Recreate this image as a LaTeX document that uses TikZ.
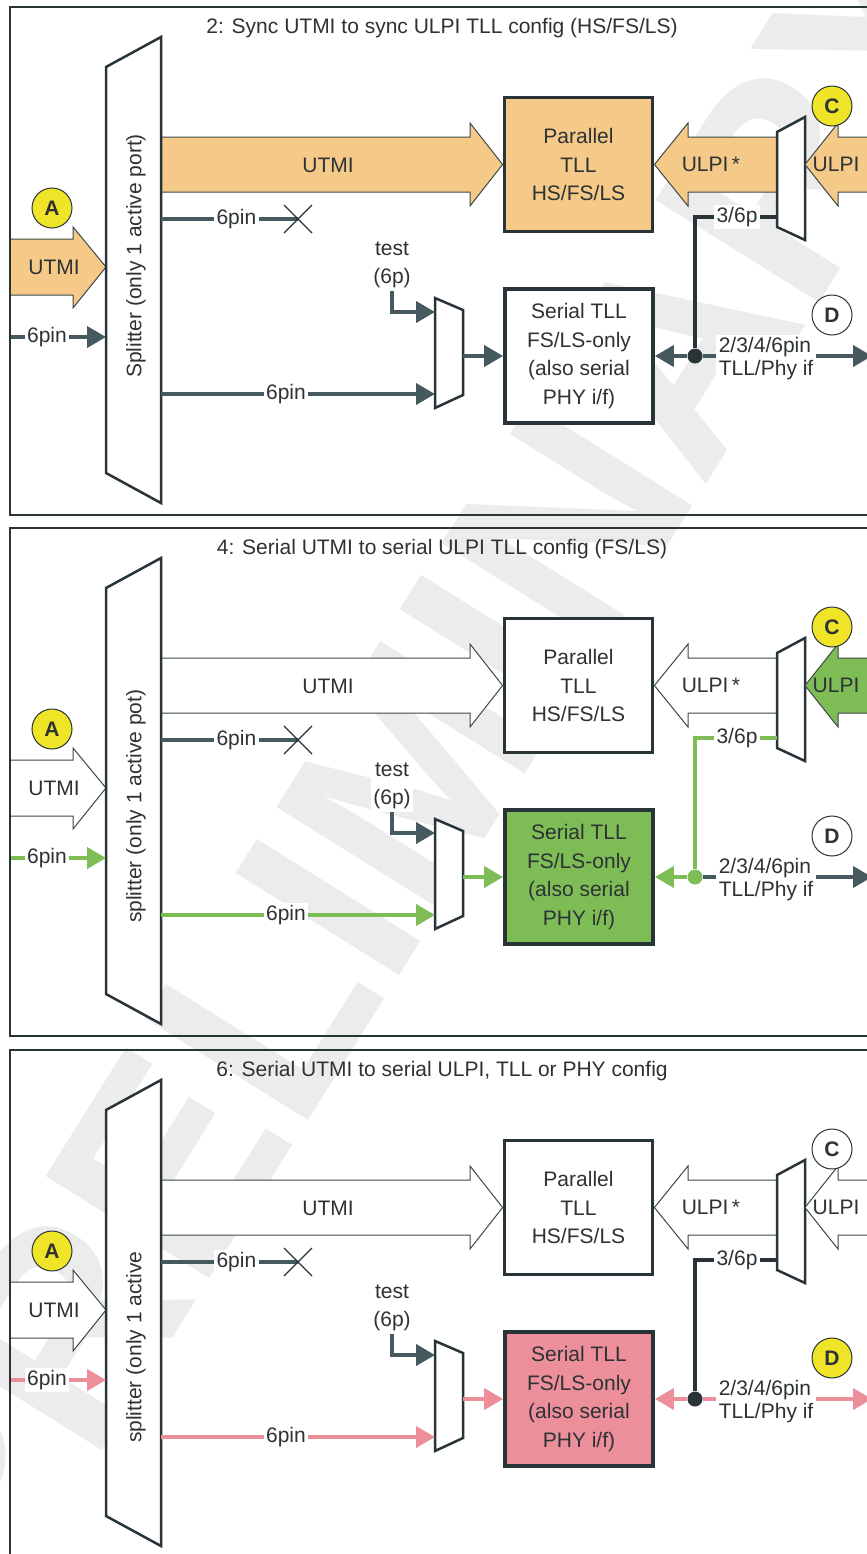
\documentclass[tikz,border=0pt]{standalone}
\usepackage{fontspec}
\setmainfont{Liberation Sans}
\usetikzlibrary{arrows.meta}
\definecolor{dk}{RGB}{40,52,56}
\definecolor{ln}{RGB}{69,89,94}
\definecolor{txt}{RGB}{45,50,52}
\definecolor{org}{RGB}{245,201,136}
\definecolor{grn}{RGB}{126,189,86}
\definecolor{pnk}{RGB}{236,143,155}
\definecolor{yel}{RGB}{240,228,40}
\definecolor{wm}{RGB}{236,236,236}
\newcommand\lblfont{\fontsize{10.5}{14.2}\selectfont}
\tikzset{
 frame/.style={draw=dk, line width=1.4pt},
 tllbox/.style={draw=dk, line width=1.9pt, minimum width=74pt, minimum height=67pt, align=center, text=txt, font=\lblfont, inner sep=0pt},
 fatarrow/.style={draw=dk!90, line width=0.5pt},
 muxshape/.style={draw=dk, line width=1.25pt, fill=white},
 wire/.style={line width=2pt},
 sig/.style={wire, -{Triangle[length=9.5pt,width=10.5pt]}},
 lab/.style={fill=white, inner sep=1.2pt, text=txt, font=\lblfont},
 plain/.style={text=txt, font=\lblfont},
 badge/.style={circle, draw=dk, line width=0.5pt, minimum size=20pt, inner sep=0pt, text=txt, font=\lblfont\bfseries},
}
\newcommand\drawpanel[5]{%
\begin{scope}[shift={(0,#2)}]
\node[plain] (#1title) at (442,28) {#3};
\node[tllbox, fill=\cPar] (#1par) at (578.5,164.5) {Parallel\\TLL\\HS/FS/LS};
\node[tllbox, fill=\cSer] (#1ser) at (579,356) {Serial TLL\\FS/LS-only\\(also serial\\PHY i/f)};
\coordinate (#1spA) at (106,267);
\coordinate (#1spIn) at (106,337);
\coordinate (#1spX) at (161,219);
\coordinate (#1spS) at (161,394);
\coordinate (#1inL) at (10,337);
\draw[fatarrow, fill=\cUtmi] (10,239) -- (73,239) -- (73,227) -- (#1spA) -- (73,308) -- (73,295) -- (10,295) -- cycle;
\node[plain] (#1utmiA) at (54,267) {UTMI};
\draw[fatarrow, fill=\cUtmi] (150,137) -- (470,137) -- (470,123) -- (#1par.west) -- (470,206) -- (470,192) -- (150,192) -- cycle;
\node[plain] (#1utmi) at (328,165) {UTMI};
\draw[fatarrow, fill=\cUtmi] (#1par.east) -- (688,123) -- (688,137) -- (790,137) -- (790,192) -- (688,192) -- (688,206) -- cycle;
\node[plain] (#1ulpis) at (711,164) {ULPI\,*};
\draw[muxshape] (777,132) -- (805,117) -- (805,240) -- (777,227) -- cycle;
\coordinate (#1mR) at (805,164.5);
\coordinate (#1m36) at (777,217);
\draw[fatarrow, fill=\cUlpi] (#1mR) -- (838,123) -- (838,137) -- (900,137) -- (900,192) -- (838,192) -- (838,206) -- cycle;
\node[plain] (#1ulpi) at (836,164) {ULPI};
\draw[muxshape] (106,67) -- (161,37) -- (161,503) -- (106,473) -- cycle;
\node[plain, rotate=90, anchor=west] (#1sptext) at (136,#5) {#4};
\draw[muxshape] (435,298) -- (463,310) -- (463,395) -- (435,408) -- cycle;
\coordinate (#1m2t) at (435,312);
\coordinate (#1m2s) at (435,394);
\coordinate (#1m2o) at (463,356);
\coordinate (#1xm) at (298,219);
\draw[sig, \cPin] (#1inL) -- node[lab, pos=0.385] {6pin} (#1spIn);
\draw[wire, ln] (#1spX) -- node[lab, pos=0.55] {6pin} (#1xm);
\draw[dk, line width=0.55pt] ([shift={(-14,-14)}]#1xm) -- ([shift={(14,14)}]#1xm)
  ([shift={(-14,14)}]#1xm) -- ([shift={(14,-14)}]#1xm);
\draw[sig, \cPin] (#1spS) -- node[lab, pos=0.456] {6pin} (#1m2s);
\node[lab, align=center] (#1test) at (392,265) {test\\(6p)};
\draw[sig, ln] (#1test.south) |- (#1m2t);
\draw[sig, \cPin] (#1m2o) -- (#1ser.west);
\node[circle, fill=\cTsix, minimum size=7.5pt, inner sep=0pt] (#1j) at (695,356) {};
\draw[wire, \cTsix] (#1m36) -| (#1j);
\node[lab] (#1l36) at (737,217) {3/6p};
\draw[sig, \cPin] (#1j) -- (#1ser.east);
\node[lab, align=left, anchor=west, font=\fontsize{10.5}{11.5}\selectfont] (#1if) at (716,359) {2/3/4/6pin\\TLL/Phy if};
\draw[wire, \cOut] (#1j) -- (#1if.west |- #1j);
\coordinate (#1outE) at (872,356);
\draw[sig, \cOut] (#1if.east |- #1j) -- (#1outE);
\node[badge, fill=yel] (#1A) at (52,208) {A};
\node[badge, fill=\cC] (#1C) at (832,106) {C};
\node[badge, fill=\cD] (#1D) at (832,315) {D};
\draw[frame] (10,7) rectangle (900,515);
\end{scope}}
\begin{document}
\begin{tikzpicture}[x=0.5pt,y=-0.5pt]
\useasboundingbox (0,0) rectangle (867,1554);
\clip (0,0) rectangle (867,1554);
\fill[white] (0,0) rectangle (867,1554);
\node[rotate=58, text=wm, font=\fontsize{140}{140}\selectfont\bfseries] (wmk) at (420,760) {PRELIMINARY};
% panel 1
\def\cUtmi{org}\def\cUlpi{org}\def\cPar{org}\def\cSer{white}
\def\cPin{ln}\def\cTsix{dk}\def\cOut{ln}\def\cC{yel}\def\cD{white}
\drawpanel{a}{0}{2: Sync UTMI to sync ULPI TLL config (HS/FS/LS)}{Splitter (only 1 active port)}{385}
% panel 2
\def\cUtmi{white}\def\cUlpi{grn}\def\cPar{white}\def\cSer{grn}
\def\cPin{grn}\def\cTsix{grn}\def\cOut{ln}\def\cC{yel}\def\cD{white}
\drawpanel{b}{521}{4: Serial UTMI to serial ULPI TLL config (FS/LS)}{splitter (only 1 active pot)}{409}
% panel 3
\def\cUtmi{white}\def\cUlpi{white}\def\cPar{white}\def\cSer{pnk}
\def\cPin{pnk}\def\cTsix{dk}\def\cOut{pnk}\def\cC{white}\def\cD{yel}
\drawpanel{c}{1043}{6: Serial UTMI to serial ULPI, TLL or PHY config}{splitter (only 1 active}{407}
\end{tikzpicture}
\end{document}
